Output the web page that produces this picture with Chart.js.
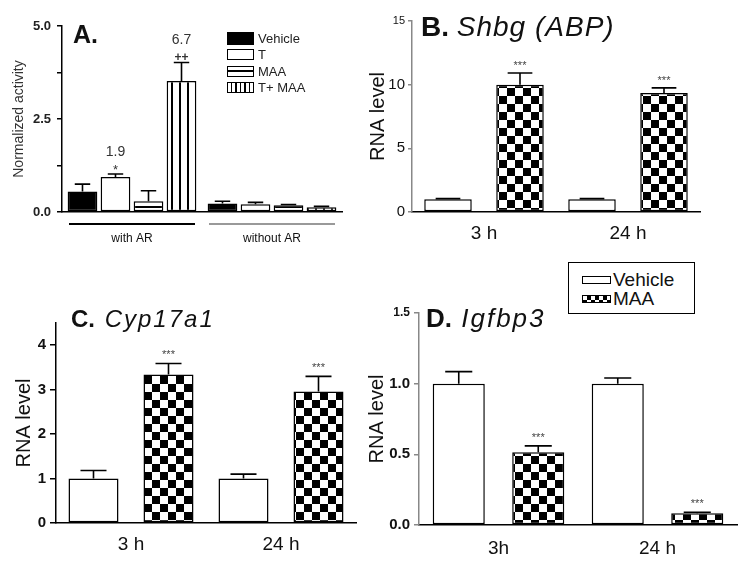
<!DOCTYPE html>
<html><head><meta charset="utf-8">
<script src="https://cdn.jsdelivr.net/npm/chart.js@4/dist/chart.umd.min.js"></script>
<style>
html,body{margin:0;padding:0;background:#fff;}
body{width:750px;height:566px;position:relative;overflow:hidden;font-family:'Liberation Sans',Arial,sans-serif;}
canvas{position:absolute;}
.t{position:absolute;white-space:nowrap;line-height:1;color:#111;}
.t b{font-weight:bold;}
.t i{font-style:italic;}
.lg{position:absolute;display:flex;align-items:center;height:16px;font-size:13px;color:#222;white-space:nowrap;}
.sw{display:inline-block;box-sizing:border-box;width:27px;height:11px;border:1.5px solid #000;margin-right:4px;background:#fff;}
.box{position:absolute;left:568px;top:262px;width:127px;height:52px;box-sizing:border-box;border:1.5px solid #000;background:#fff;}
.lg2{position:absolute;display:flex;align-items:center;height:20px;font-size:19px;color:#111;white-space:nowrap;}
.sw2{display:inline-block;box-sizing:border-box;width:29px;height:8px;border:1.5px solid #000;margin-right:2px;background:#fff;}
</style></head><body>
<canvas id="cA" width="375" height="262" style="left:0;top:0"></canvas>
<canvas id="cB" width="395" height="262" style="left:355px;top:0"></canvas>
<canvas id="cC" width="375" height="286" style="left:0;top:280px"></canvas>
<canvas id="cD" width="395" height="286" style="left:355px;top:280px"></canvas>

<div class="t" style="left:73px;top:22px;font-size:25px;"><b>A.</b></div>
<div class="t" style="left:421px;top:13px;font-size:28px;"><b>B.</b> <i style="letter-spacing:1px">Shbg (ABP)</i></div>
<div class="t" style="left:71px;top:307px;font-size:24px;"><b>C.</b> <i style="letter-spacing:2px;margin-left:3px">Cyp17a1</i></div>
<div class="t" style="left:426px;top:305px;font-size:26px;"><b>D.</b> <i style="letter-spacing:2px;margin-left:2px">Igfbp3</i></div>

<div class="lg" style="left:227px;top:30px;"><span class="sw" style="background:#000;height:13px"></span>Vehicle</div>
<div class="lg" style="left:227px;top:46px;"><span class="sw"></span>T</div>
<div class="lg" style="left:227px;top:63px;"><span class="sw" style="background:linear-gradient(to bottom,#fff 0 35%,#000 35% 60%,#fff 60%)"></span>MAA</div>
<div class="lg" style="left:227px;top:79px;"><span class="sw" style="background:repeating-linear-gradient(to right,#fff 0 3px,#000 3px 4.5px)"></span>T+ MAA</div>

<div class="box"></div>
<div class="lg2" style="left:582px;top:270px;"><span class="sw2"></span>Vehicle</div>
<div class="lg2" style="left:582px;top:289px;"><span class="sw2" style="background:repeating-conic-gradient(#000 0 25%,#fff 0 50%) 0 0/8px 8px"></span>MAA</div>

<script>
// ---------- Panel A data ----------
const groupsA = ['with AR', 'without AR'];
const seriesA = ['Vehicle', 'T', 'MAA', 'T+ MAA'];
const vehicleA = [0.55, 0.23];
const vehicleErrA = [0.20, 0.06];
const tA = [0.94, 0.21];
const tErrA = [0.08, 0.05];
const maaA = [0.29, 0.18];
const maaErrA = [0.28, 0.02];
const tmaaA = [3.52, 0.13];
const tmaaErrA = [0.50, 0.02];
const tSigA = ['*', ''];
const tFoldA = ['1.9', ''];
const tmaaSigA = ['++', ''];
const tmaaFoldA = ['6.7', ''];
const ticksA = [0, 1.25, 2.5, 3.75, 5];
const labeledTicksA = [0, 2.5, 5];

// ---------- Panels B-D data ----------
const seriesBCD = ['Vehicle', 'MAA'];
const timesBC = ['3 h', '24 h'];
const timesD = ['3h', '24 h'];

const vehB = [1.0, 1.0];
const vehErrB = [0.05, 0.05];
const maaB = [10.0, 9.35];
const maaErrB = [0.92, 0.40];
const sigB = ['***', '***'];
const ticksB = [0, 5, 10, 15];

const vehC = [1.0, 1.0];
const vehErrC = [0.18, 0.10];
const maaC = [3.34, 2.96];
const maaErrC = [0.25, 0.34];
const sigC = ['***', '***'];
const ticksC = [0, 1, 2, 3, 4];

const vehD = [1.0, 1.0];
const vehErrD = [0.085, 0.04];
const maaD = [0.515, 0.083];
const maaErrD = [0.045, 0.007];
const sigD = ['***', '***'];
const ticksD = [0, 0.5, 1.0, 1.5];

Chart.defaults.font.family = "'Liberation Sans', Arial, sans-serif";
Chart.defaults.color = '#111';

function makePattern(kind) {
  const c = document.createElement('canvas');
  const g = c.getContext('2d');
  if (kind === 'checker') {
    c.width = 16; c.height = 16;
    g.fillStyle = '#fff'; g.fillRect(0, 0, 16, 16);
    g.fillStyle = '#000'; g.fillRect(0, 0, 8, 8); g.fillRect(8, 8, 8, 8);
  } else if (kind === 'hstripe') {
    c.width = 4; c.height = 6;
    g.fillStyle = '#fff'; g.fillRect(0, 0, 4, 6);
    g.fillStyle = '#000'; g.fillRect(0, 2, 4, 2);
  } else {
    c.width = 8; c.height = 4;
    g.fillStyle = '#fff'; g.fillRect(0, 0, 8, 4);
    g.fillStyle = '#000'; g.fillRect(3, 0, 2, 4);
  }
  return g.createPattern(c, 'repeat');
}
const checker = makePattern('checker');
const hstripe = makePattern('hstripe');
const vstripe = makePattern('vstripe');

const errorBars = {
  id: 'errorBars',
  afterDatasetsDraw(chart) {
    const ctx = chart.ctx, y = chart.scales.y;
    chart.data.datasets.forEach((ds, i) => {
      const meta = chart.getDatasetMeta(i);
      meta.data.forEach((bar, j) => {
        const v = ds.data[j], e = ds.errors ? ds.errors[j] : 0;
        const top = y.getPixelForValue(v + e);
        const half = bar.width * 0.26;
        ctx.save();
        ctx.strokeStyle = '#000';
        ctx.lineWidth = 1.6;
        if (e > 0) {
          ctx.beginPath();
          ctx.moveTo(bar.x, bar.y); ctx.lineTo(bar.x, top);
          ctx.moveTo(bar.x - half, top); ctx.lineTo(bar.x + half, top);
          ctx.stroke();
        }
        ctx.textAlign = 'center';
        ctx.textBaseline = 'middle';
        if (ds.marks && ds.marks[j]) {
          ctx.font = ds.markFont || "11px 'Liberation Sans', Arial, sans-serif";
          ctx.fillStyle = ds.markColor || '#444';
          ctx.fillText(ds.marks[j], bar.x, top - (ds.markOffset || 7));
        }
        if (ds.folds && ds.folds[j]) {
          ctx.font = "14px 'Liberation Sans', Arial, sans-serif";
          ctx.fillStyle = '#333';
          ctx.fillText(ds.folds[j], bar.x, top - 22);
        }
        ctx.restore();
      });
    });
  }
};

const groupLines = {
  id: 'groupLines',
  afterDraw(chart) {
    const x = chart.scales.x, ctx = chart.ctx;
    const half = (x.right - x.left) / groupsA.length * 0.45;
    const colors = ['#000', '#999'];
    groupsA.forEach((g, i) => {
      const c = x.getPixelForValue(i);
      ctx.save();
      ctx.strokeStyle = colors[i];
      ctx.lineWidth = 2;
      ctx.beginPath();
      ctx.moveTo(c - half, x.top + 12);
      ctx.lineTo(c + half, x.top + 12);
      ctx.stroke();
      ctx.restore();
    });
  }
};

function barDs(label, data, errors, fill, extra) {
  return Object.assign({
    label, data, errors,
    backgroundColor: fill, borderColor: '#000', borderWidth: 1.5, borderSkipped: false
  }, extra || {});
}

function makeOptions(o) {
  return {
    responsive: false, animation: false, events: [],
    layout: { padding: { left: o.padL, top: o.padT, right: o.padR, bottom: 0 } },
    plugins: { legend: { display: false }, tooltip: { enabled: false } },
    datasets: { bar: { categoryPercentage: o.catPct, barPercentage: o.barPct } },
    scales: {
      x: {
        grid: { display: false },
        border: { color: '#000', width: 1.5 },
        ticks: { font: { size: o.xFont }, padding: o.xPad, color: '#111', maxRotation: 0 },
        afterFit: s => { s.height = o.xH; }
      },
      y: {
        min: 0, max: o.yMax,
        afterBuildTicks: s => { s.ticks = o.yTicks.map(v => ({ value: v })); },
        ticks: {
          font: o.yTickFont, padding: o.yTickPad, color: o.yTickColor || '#111',
          callback: o.yCallback
        },
        grid: { drawOnChartArea: false, drawTicks: true, tickLength: o.tickLen, color: o.axisColor, lineWidth: 1.5 },
        border: { color: o.axisColor, width: 1.5 },
        title: { display: true, text: o.yTitle, font: { size: o.yTitleSize, weight: o.yTitleWeight || 'normal' }, color: o.yTitleColor || '#111', padding: { top: 4, bottom: 4 } },
        afterFit: s => { s.width = o.yW; }
      }
    }
  };
}

// Panel A
new Chart(document.getElementById('cA'), {
  type: 'bar',
  data: {
    labels: groupsA,
    datasets: [
      barDs(seriesA[0], vehicleA, vehicleErrA, '#000'),
      barDs(seriesA[1], tA, tErrA, '#fff', { marks: tSigA, folds: tFoldA, markOffset: 4, markFont: "13px 'Liberation Sans', Arial, sans-serif", markColor: '#333' }),
      barDs(seriesA[2], maaA, maaErrA, hstripe),
      barDs(seriesA[3], tmaaA, tmaaErrA, vstripe, { marks: tmaaSigA, folds: tmaaFoldA, markOffset: 5, markFont: "bold 12px 'Liberation Sans', Arial, sans-serif", markColor: '#333' })
    ]
  },
  options: makeOptions({
    padL: 7, padT: 26, padR: 33, yW: 55, xH: 50, catPct: 0.943, barPct: 0.9,
    xFont: 12, xPad: 11, yMax: 5, yTicks: ticksA,
    yTickFont: { size: 13, weight: 'bold' }, yTickPad: 6, tickLen: 5, yTickColor: '#222',
    yCallback: v => labeledTicksA.includes(v) ? v.toFixed(1) : '',
    axisColor: '#000', yTitle: 'Normalized activity', yTitleSize: 14, yTitleColor: '#333'
  }),
  plugins: [errorBars, groupLines]
});

// Panel B
new Chart(document.getElementById('cB'), {
  type: 'bar',
  data: {
    labels: timesBC,
    datasets: [
      barDs(seriesBCD[0], vehB, vehErrB, '#fff'),
      barDs(seriesBCD[1], maaB, maaErrB, checker, { marks: sigB, markOffset: 7 })
    ]
  },
  options: makeOptions({
    padL: 7, padT: 21, padR: 50, yW: 50, xH: 50, catPct: 1, barPct: 0.66,
    xFont: 19, xPad: 2, yMax: 15, yTicks: ticksB,
    yTickFont: c => ({ size: (c.tick && c.tick.value === 15) ? 11 : 15 }), yTickPad: 3, tickLen: 4,
    yCallback: v => String(v),
    axisColor: '#888', yTitle: 'RNA level', yTitleSize: 20
  }),
  plugins: [errorBars]
});

// Panel C
new Chart(document.getElementById('cC'), {
  type: 'bar',
  data: {
    labels: timesBC,
    datasets: [
      barDs(seriesBCD[0], vehC, vehErrC, '#fff'),
      barDs(seriesBCD[1], maaC, maaErrC, checker, { marks: sigC, markOffset: 8 })
    ]
  },
  options: makeOptions({
    padL: 8, padT: 43, padR: 19, yW: 48, xH: 43, catPct: 1, barPct: 0.667,
    xFont: 19, xPad: 2, yMax: 4.5, yTicks: ticksC,
    yTickFont: { size: 15, weight: 'bold' }, yTickPad: 4, tickLen: 6,
    yCallback: v => String(v),
    axisColor: '#000', yTitle: 'RNA level', yTitleSize: 20
  }),
  plugins: [errorBars]
});

// Panel D
new Chart(document.getElementById('cD'), {
  type: 'bar',
  data: {
    labels: timesD,
    datasets: [
      barDs(seriesBCD[0], vehD, vehErrD, '#fff'),
      barDs(seriesBCD[1], maaD, maaErrD, checker, { marks: sigD, markOffset: 8 })
    ]
  },
  options: makeOptions({
    padL: 6, padT: 33, padR: 13, yW: 58, xH: 41, catPct: 1, barPct: 0.655,
    xFont: 19, xPad: 4, yMax: 1.5, yTicks: ticksD,
    yTickFont: c => ({ size: (c.tick && c.tick.value === 1.5) ? 12 : 15, weight: 'bold' }), yTickPad: 4, tickLen: 5,
    yCallback: v => v.toFixed(1),
    axisColor: '#888', yTitle: 'RNA level', yTitleSize: 20
  }),
  plugins: [errorBars]
});
</script>
</body></html>
